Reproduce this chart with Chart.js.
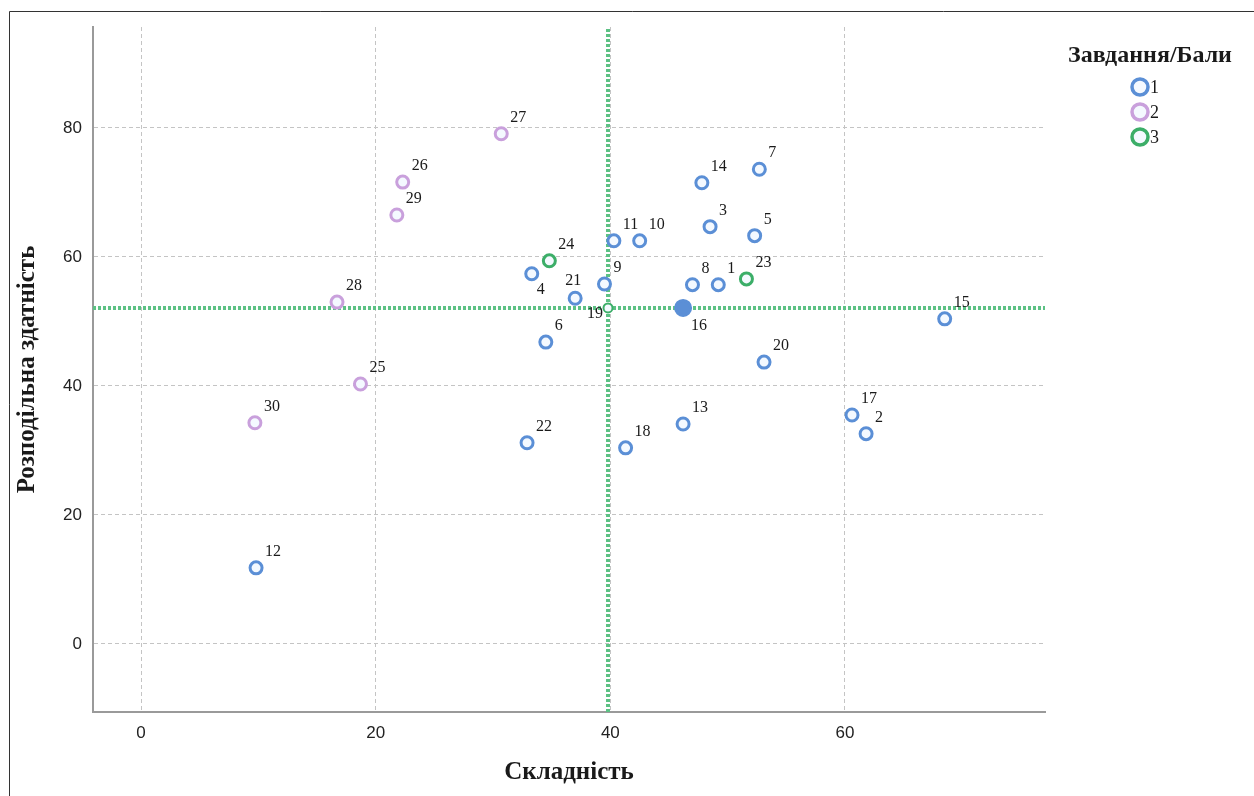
<!DOCTYPE html>
<html>
<head>
<meta charset="utf-8">
<script src="https://cdn.jsdelivr.net/npm/chart.js@4"></script>
<style>
html,body{margin:0;padding:0;background:#fff;}
#wrap{width:1254px;height:796px;position:relative;}
</style>
</head>
<body>
<div id="wrap"><canvas id="c" width="1254" height="796"></canvas></div>
<script>
// ---- data ----
const xTitle = 'Складність';
const yTitle = 'Розподільна здатність';
const legendTitle = 'Завдання/Бали';
const groupNames = ['1', '2', '3'];

const ids1 = [1, 2, 3, 4, 5, 6, 7, 8, 9, 10, 11, 12, 13, 14, 15, 16, 17, 18, 20, 21, 22];
const complexity1 = [49.2, 61.8, 48.5, 33.3, 52.3, 34.5, 52.7, 47.0, 39.5, 42.5, 40.3, 9.8, 46.2, 47.8, 68.5, 46.2, 60.6, 41.3, 53.1, 37.0, 32.9];
const resolution1 = [55.7, 32.6, 64.7, 57.4, 63.3, 46.8, 73.6, 55.7, 55.8, 62.5, 62.5, 11.8, 34.1, 71.5, 50.4, 52.1, 35.5, 30.4, 43.7, 53.6, 31.2];

const ids2 = [25, 26, 27, 28, 29, 30];
const complexity2 = [18.7, 22.3, 30.7, 16.7, 21.8, 9.7];
const resolution2 = [40.3, 71.6, 79.1, 53.0, 66.5, 34.3];

const ids3 = [19, 23, 24];
const complexity3 = [39.8, 51.6, 34.8];
const resolution3 = [52.1, 56.6, 59.4];

const meanComplexity = 39.8;
const meanResolution = 52.1;

const xTicks = [0, 20, 40, 60];
const yTicks = [0, 20, 40, 60, 80];
const xRange = [-4.1, 77.05];
const yRange = [-10.55, 95.65];

// ---- styles ----
const colors = ['#5b8fd6', '#c9a0dc', '#3cae68'];
const refColor = '#5cc184';
const labelPlacement = {4: 'se', 21: 'n', 19: 'sw', 16: 'se2'};

function pts(xs, ys) { return xs.map((x, i) => ({x: x, y: ys[i]})); }

function groupDataset(label, ids, xs, ys, color) {
  return {
    type: 'scatter',
    label: label,
    ids: ids,
    data: pts(xs, ys),
    borderColor: color,
    backgroundColor: '#ffffff',
    pointBackgroundColor: ctx => (ids[ctx.dataIndex] === 16 ? color : '#f4f9ff'),
    pointBorderColor: color,
    pointRadius: ctx => (ids[ctx.dataIndex] === 16 ? 7.5 : ids[ctx.dataIndex] === 19 ? 4.5 : 6),
    pointBorderWidth: ctx => (ids[ctx.dataIndex] === 19 ? 2 : 3),
    pointHoverRadius: 6,
    order: 1
  };
}

const datasets = [
  {
    type: 'line', label: 'meanX', isRef: true,
    data: [{x: meanComplexity, y: yRange[0]}, {x: meanComplexity, y: yRange[1]}],
    borderColor: refColor, borderWidth: 4, borderDash: [3, 2], pointRadius: 0, order: 5
  },
  {
    type: 'line', label: 'meanY', isRef: true,
    data: [{x: xRange[0], y: meanResolution}, {x: xRange[1], y: meanResolution}],
    borderColor: refColor, borderWidth: 4, borderDash: [3, 2], pointRadius: 0, order: 5
  },
  groupDataset(groupNames[0], ids1, complexity1, resolution1, colors[0]),
  groupDataset(groupNames[1], ids2, complexity2, resolution2, colors[1]),
  groupDataset(groupNames[2], ids3, complexity3, resolution3, colors[2])
];

const framePlugin = {
  id: 'frame',
  beforeDraw(chart) {
    const ctx = chart.ctx;
    ctx.save();
    ctx.fillStyle = '#fff';
    ctx.fillRect(0, 0, chart.width, chart.height);
    ctx.strokeStyle = '#333';
    ctx.lineWidth = 1;
    ctx.beginPath();
    ctx.moveTo(9.5, 800);
    ctx.lineTo(9.5, 11.5);
    ctx.lineTo(1260, 11.5);
    ctx.stroke();
    ctx.restore();
  }
};

const labelPlugin = {
  id: 'pointLabels',
  afterDatasetsDraw(chart) {
    const ctx = chart.ctx;
    ctx.save();
    ctx.font = '16px "Liberation Serif", "DejaVu Serif", serif';
    ctx.fillStyle = '#1a1a1a';
    ctx.textBaseline = 'middle';
    chart.data.datasets.forEach((ds, di) => {
      if (!ds.ids) return;
      const meta = chart.getDatasetMeta(di);
      meta.data.forEach((el, i) => {
        const id = ds.ids[i];
        const p = labelPlacement[id] || 'ne';
        let dx = 9, dy = -16, align = 'left';
        if (p === 'se') { dx = 5; dy = 16; }
        if (p === 'se2') { dx = 8; dy = 18; }
        if (p === 'n') { dx = -2; dy = -17; align = 'center'; }
        if (p === 'sw') { dx = -5; dy = 6; align = 'right'; }
        ctx.textAlign = align;
        ctx.fillText(String(id), el.x + dx, el.y + dy);
      });
    });
    ctx.restore();
  }
};

const legendPlugin = {
  id: 'customLegend',
  afterDraw(chart) {
    const ctx = chart.ctx;
    ctx.save();
    ctx.font = 'bold 24px "Liberation Serif", serif';
    ctx.fillStyle = '#1a1a1a';
    ctx.textAlign = 'center';
    ctx.textBaseline = 'middle';
    ctx.fillText(legendTitle, 1150, 56);
    ctx.font = '18px "Liberation Serif", serif';
    ctx.textAlign = 'left';
    groupNames.forEach((name, i) => {
      const cy = 87 + i * 25;
      ctx.beginPath();
      ctx.arc(1140, cy, 8, 0, Math.PI * 2);
      ctx.fillStyle = '#f4f9ff';
      ctx.fill();
      ctx.lineWidth = 3.5;
      ctx.strokeStyle = colors[i];
      ctx.stroke();
      ctx.fillStyle = '#1a1a1a';
      ctx.fillText(name, 1150, cy + 1);
    });
    ctx.restore();
  }
};

const tickFont = {family: '"Liberation Sans Narrow", "Liberation Sans", sans-serif', size: 17};
const titleFont = {family: '"Liberation Serif", serif', size: 25, weight: 'bold', lineHeight: 1.2};

new Chart(document.getElementById('c'), {
  type: 'scatter',
  data: {datasets: datasets},
  options: {
    responsive: false,
    animation: false,
    layout: {padding: {left: 0, right: 209, top: 27, bottom: 0}},
    plugins: {legend: {display: false}, tooltip: {enabled: false}},
    scales: {
      x: {
        type: 'linear', min: xRange[0], max: xRange[1],
        afterBuildTicks: s => { s.ticks = xTicks.map(v => ({value: v})); },
        afterFit: s => { s.height = 796 - 712; },
        grid: {color: '#c4c4c4', lineWidth: 1, drawTicks: false},
        border: {display: true, color: '#9a9a9a', width: 2, dash: [4, 3]},
        ticks: {font: tickFont, color: '#222', padding: 11},
        title: {display: true, text: xTitle, font: titleFont, color: '#1a1a1a', padding: {top: 0, bottom: 8}}
      },
      y: {
        type: 'linear', min: yRange[0], max: yRange[1],
        afterBuildTicks: s => { s.ticks = yTicks.map(v => ({value: v})); },
        afterFit: s => { s.width = 93; },
        grid: {color: '#c4c4c4', lineWidth: 1, drawTicks: false},
        border: {display: true, color: '#9a9a9a', width: 2, dash: [4, 3]},
        ticks: {font: tickFont, color: '#222', padding: 11},
        title: {display: true, text: yTitle, font: titleFont, color: '#1a1a1a', padding: {top: 13, bottom: 0}}
      }
    }
  },
  plugins: [framePlugin, labelPlugin, legendPlugin]
});
</script>
</body>
</html>
